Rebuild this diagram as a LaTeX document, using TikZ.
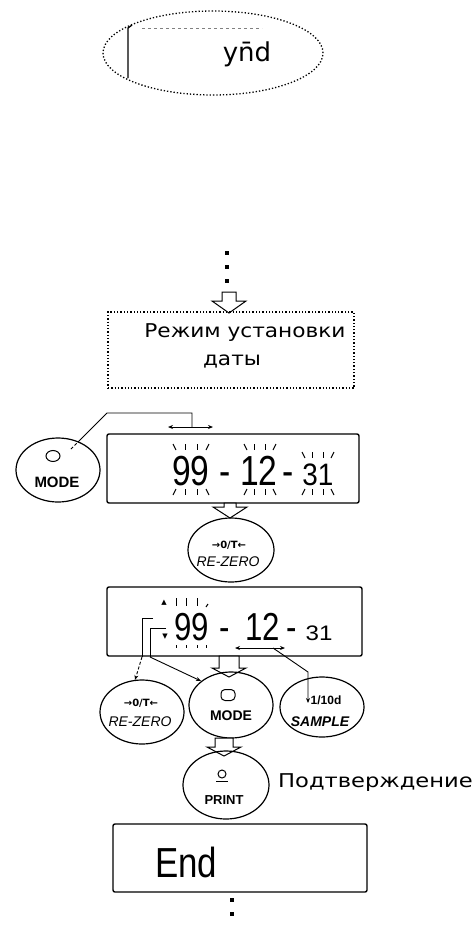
\documentclass[tikz,border=0pt]{standalone}
\usepackage{fontspec}
\setmainfont{Liberation Sans}
\newfontfamily\dvf{DejaVu Sans}
\usetikzlibrary{arrows.meta,shapes.geometric}
\newcommand\blk[4]{%
  \draw[tick] ({#1-#4},{#2}) -- ({#1-#4+3},{#2+6});
  \draw[tick] ({#1-#4/3},{#2}) -- ({#1-#4/3},{#2+6});
  \draw[tick] ({#1+#4/3},{#2}) -- ({#1+#4/3},{#2+6});
  \draw[tick] ({#1+#4},{#2}) -- ({#1+#4-3},{#2+6});
  \draw[tick] ({#1-#4+3},{#3}) -- ({#1-#4},{#3+6});
  \draw[tick] ({#1-#4/3},{#3}) -- ({#1-#4/3},{#3+6});
  \draw[tick] ({#1+#4/3},{#3}) -- ({#1+#4/3},{#3+6});
  \draw[tick] ({#1+#4-3},{#3}) -- ({#1+#4},{#3+6});
}
\newcommand\harr[6]{%
  \draw[hollow] ({#1-#5},{#2}) -- ({#1+#5},{#2}) -- ({#1+#5},{#3}) -- ({#1+#6},{#3})
    -- ({#1},{#4}) -- ({#1-#6},{#3}) -- ({#1-#5},{#3}) -- cycle;
}
\newcommand\segtxt[3]{\scalebox{#3}[1]{\fontsize{#1}{#1}\selectfont #2}}
\begin{document}
\begin{tikzpicture}[x=1pt,y=-1pt,
  disp/.style={draw,line width=1.4pt,rounded corners=2pt,inner sep=0pt},
  key/.style={draw,ellipse,line width=1.2pt,inner sep=0pt},
  hollow/.style={draw,line width=1pt,fill=white,line join=miter},
  conn/.style={line width=0.9pt},
  tick/.style={line width=1pt},
  dotline/.style={line width=3.2pt,dash pattern=on 4pt off 10pt},
  dbl/.style={line width=0.9pt,{Stealth[length=5pt,width=4pt]}-{Stealth[length=5pt,width=4pt]}},
  tip/.style={line width=0.9pt,-{Stealth[length=5pt,width=4pt]}},
  keytxt/.style={font=\bfseries\fontsize{14}{14}\selectfont,inner sep=0pt},
  keysym/.style={font=\dvf\bfseries\fontsize{10}{10}\selectfont,inner sep=0pt},
  rutxt/.style={font=\dvf\fontsize{19}{19}\selectfont,inner sep=0pt},
  seg/.style={inner sep=0pt,anchor=base}
]
\useasboundingbox (0,0) rectangle (476,926);

% ---- top dotted ellipse
\node[draw,ellipse,dotted,line width=1.3pt,minimum width=220,minimum height=84] (top) at (213,53) {};
\draw[line width=1.3pt] (128,78) -- (128,28) -- (132,25);
\draw[gray,dashed,line width=0.8pt] (142,28) -- (262,28);
\node[seg] (ymd) at (247,61) {\dvf\fontsize{26}{26}\selectfont yn̄d};

% ---- dots and hollow arrow into the mode box
\coordinate (dA) at (227,251);
\coordinate (dB) at (227,288);
\draw[dotline] (dA) -- (dB);
\harr{229}{292}{301}{313}{7}{17}

\node[draw,dotted,line width=1.3pt,minimum width=246,minimum height=76] (datebox) at (231,350) {};
\node[rutxt,anchor=base] (t1) at (245,337) {\scalebox{1.14}[1]{Режим установки}};
\node[rutxt,anchor=base] (t2) at (232,365) {\scalebox{1.14}[1]{даты}};

% ---- MODE key 1 and display 1
\node[key,minimum width=84,minimum height=64] (mode1) at (58,470) {};
\node[draw,ellipse,line width=1pt,minimum width=14,minimum height=11] (mode1ic) at (53,456) {};
\node[keytxt,font=\bfseries\fontsize{15}{15}\selectfont] (mode1t) at (57,482) {MODE};
\coordinate (m1a) at (71,449);
\coordinate (m1b) at (78,442);
\coordinate (m1c) at (107,413);
\coordinate (m1d) at (192,413);
\coordinate (m1e) at (192,427);
\coordinate (d1l) at (168,427);
\coordinate (d1r) at (213,427);
\draw[conn,densely dashed] (m1a) -- (m1b);
\draw[conn] (m1b) -- (m1c) -- (m1d) -- (m1e);
\draw[dbl] (d1l) -- (d1r);

\node[disp,minimum width=252,minimum height=69] (disp1) at (233,468.5) {};
\node[seg] (d1a) at (191,485) {\segtxt{42}{99}{0.8}};
\node[seg] (d1b) at (225,485) {\segtxt{42}{-}{0.8}};
\node[seg] (d1c) at (259,485) {\segtxt{42}{12}{0.8}};
\node[seg] (d1d) at (288,485) {\segtxt{42}{-}{0.8}};
\node[seg] (d1e) at (318,485) {\segtxt{31}{31}{0.9}};
\blk{191}{444}{489}{18}
\blk{260}{444}{489}{16}
\blk{318}{452}{489}{16}

\harr{230}{503}{507}{518}{6}{17}

% ---- RE-ZERO key 1
\node[key,minimum width=86,minimum height=64] (rz1) at (231,550) {};
\node[keysym] (rz1s) at (229,545) {→0/T←};
\node[keytxt,font=\itshape\fontsize{14}{14}\selectfont] (rz1t) at (228,562) {RE-ZERO};

% ---- display 2
\node[disp,minimum width=255,minimum height=69] (disp2) at (234.5,621.5) {};
\node[seg] (d2a) at (192,640) {\segtxt{39}{99}{0.8}};
\node[seg] (d2b) at (225,640) {\segtxt{39}{-}{0.8}};
\node[seg] (d2c) at (263,640) {\segtxt{39}{12}{0.8}};
\node[seg] (d2d) at (292,640) {\segtxt{39}{-}{0.8}};
\node[seg] (d2e) at (319,640) {\segtxt{21}{31}{1.15}};
\node[font=\dvf\fontsize{7}{7}\selectfont,inner sep=0pt] (up2) at (164,603) {▲};
\node[font=\dvf\fontsize{7}{7}\selectfont,inner sep=0pt] (dn2) at (165,637) {▼};
\draw[tick] (176,598) -- (176,606);
\draw[tick] (186,598) -- (186,606);
\draw[tick] (197,598) -- (197,606);
\draw[tick] (208,604) -- (206,607);
\draw[tick] (176,645) -- (176,648);
\draw[tick] (186,645) -- (186,648);
\draw[tick] (197,645) -- (197,648);
\draw[tick] (206,645) -- (206,648);

% bracket lines from display 2
\coordinate (bA1) at (153,618);
\coordinate (bA2) at (142,618);
\coordinate (bA3) at (142,657);
\coordinate (bA4) at (135,680);
\coordinate (bB1) at (166,628);
\coordinate (bB2) at (150,628);
\coordinate (bB3) at (150,657);
\coordinate (bB4) at (201,681);
\draw[conn] (bA1) -- (bA2) -- (bA3);
\draw[tip,densely dashed] (bA3) -- (bA4);
\draw[conn] (bB1) -- (bB2) -- (bB3);
\draw[tip] (bB3) -- (bB4);
% double arrow under 12 and line to SAMPLE
\coordinate (s1l) at (235,648);
\coordinate (s1r) at (285,648);
\coordinate (s1a) at (273,648);
\coordinate (s1b) at (308,672);
\coordinate (s1c) at (308,703);
\draw[dbl] (s1l) -- (s1r);
\draw[tip] (s1a) -- (s1b) -- (s1c);

\harr{229}{656}{668}{677}{10}{17}

% ---- row of keys
\node[key,minimum width=84,minimum height=64] (rz2) at (142,712) {};
\node[keysym] (rz2s) at (141,703) {→0/T←};
\node[keytxt,font=\itshape\fontsize{14}{14}\selectfont] (rz2t) at (140,722) {RE-ZERO};

\node[key,minimum width=84,minimum height=66] (mode2) at (231,705) {};
\node[draw,rounded corners=4pt,line width=1pt,minimum width=14,minimum height=11,inner sep=0pt] (mode2ic) at (228,695) {};
\node[keytxt] (mode2t) at (231,716) {MODE};

\node[key,minimum width=84,minimum height=60] (sample) at (322,707) {};
\node[keytxt,font=\bfseries\fontsize{12}{12}\selectfont] (samples) at (326,700) {1/10d};
\node[keytxt,font=\bfseries\itshape\fontsize{14}{14}\selectfont] (samplet) at (320,722) {SAMPLE};

\harr{224}{738}{747}{756}{9}{17}

% ---- PRINT key
\node[key,minimum width=86,minimum height=68] (print) at (226,785) {};
\node[draw,circle,line width=1pt,minimum size=8,inner sep=0pt] (printic) at (222,774) {};
\draw[line width=1pt] (216,781) -- (228,781);
\node[keytxt,font=\bfseries\fontsize{13}{13}\selectfont] (printt) at (224,800) {PRINT};
\node[rutxt,anchor=base west] (conf) at (278,787) {\scalebox{1.19}[1]{Подтверждение}};

% ---- End display
\node[disp,minimum width=254,minimum height=68] (end) at (240,858) {};
\node[seg,anchor=base west] (endt) at (155,877) {\segtxt{42}{End}{0.83}};
\coordinate (eA) at (232,898);
\coordinate (eB) at (232,926);
\draw[dotline] (eA) -- (eB);
\end{tikzpicture}
\end{document}
